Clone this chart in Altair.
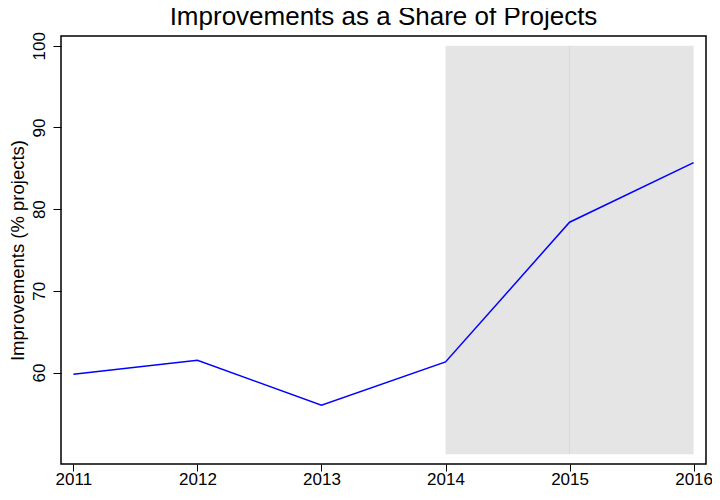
import altair as alt
import pandas as pd

years = [2011, 2012, 2013, 2014, 2015, 2016]
improvements = [59.8, 61.5, 56.0, 61.3, 78.4, 85.7]

shade_start = [2014]
shade_end = [2016]
shade_low = [50]
shade_high = [100]
divider_year = [2015]

y_ticks = [60, 70, 80, 90, 100]

FONT = "Liberation Sans"

df = pd.DataFrame({"year": years, "value": improvements})
shade = pd.DataFrame({"x": shade_start, "x2": shade_end, "y": shade_low, "y2": shade_high})
div = pd.DataFrame({"x": divider_year, "y": shade_low, "y2": shade_high})

xscale = alt.Scale(domain=[2010.9, 2016.1], nice=False, zero=False)
yscale = alt.Scale(domain=[48.8, 101.2], nice=False, zero=False)

xaxis = alt.Axis(values=years, format="d", title=None, grid=False, domain=False,
                 tickSize=7, tickColor="black", labelColor="black", labelFontSize=17,
                 labelFont=FONT, labelPadding=0)
yaxis = alt.Axis(values=y_ticks, title="Improvements (% projects)", grid=False, domain=False,
                 tickSize=8, tickColor="black", labelColor="black", labelFontSize=17,
                 labelFont=FONT, labelAngle=-90, labelAlign="center", labelBaseline="bottom",
                 labelPadding=5, titleFont=FONT, titleFontSize=18.5, titleFontWeight="normal",
                 titleColor="black", titlePadding=3)

rect = alt.Chart(shade).mark_rect(color="#e5e5e5").encode(
    x=alt.X("x:Q", scale=xscale, axis=xaxis),
    x2="x2:Q",
    y=alt.Y("y:Q", scale=yscale, axis=yaxis),
    y2="y2:Q",
)

rule = alt.Chart(div).mark_rule(color="#d9d9d9", strokeWidth=1).encode(
    x=alt.X("x:Q", scale=xscale),
    y=alt.Y("y:Q", scale=yscale),
    y2="y2:Q",
)

line = alt.Chart(df).mark_line(color="#0000ff", strokeWidth=1.5).encode(
    x=alt.X("year:Q", scale=xscale),
    y=alt.Y("value:Q", scale=yscale),
)

chart = (rect + rule + line).properties(
    width=645,
    height=428,
    title=alt.TitleParams("Improvements as a Share of Projects", font=FONT, fontSize=26,
                          fontWeight="normal", color="black", offset=2),
    autosize=alt.AutoSizeParams(type="none"),
    padding={"left": 53, "top": 28, "right": 6, "bottom": 24},
).configure_view(stroke="black", strokeWidth=1.5)

chart.save("out.html", embed_options={"renderer": "svg", "actions": False})
